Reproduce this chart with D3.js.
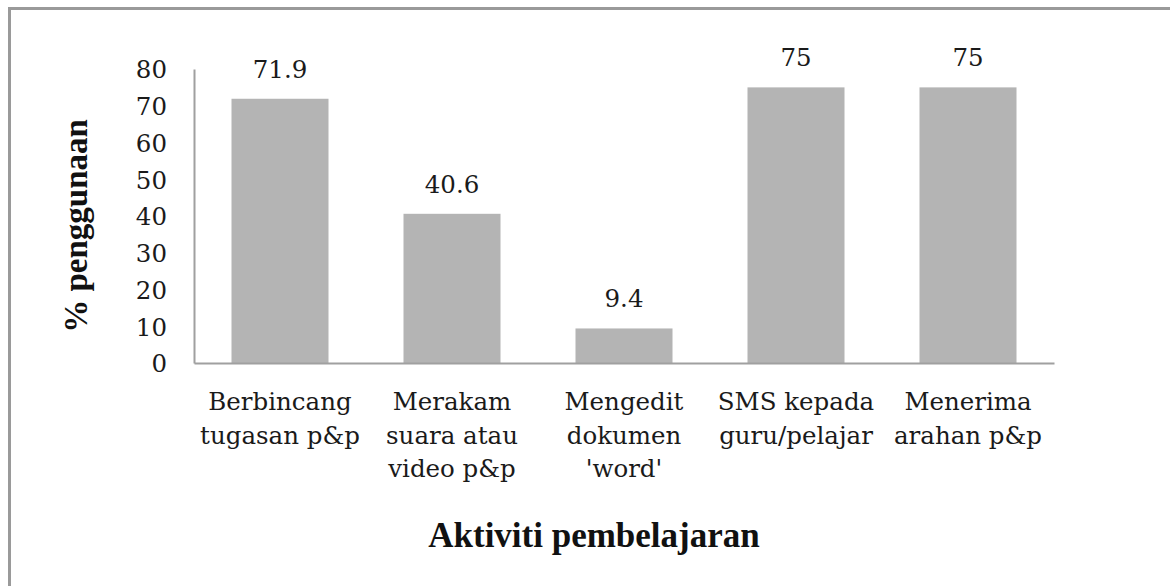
<!DOCTYPE html>
<html>
<head>
<meta charset="utf-8">
<script src="https://cdn.jsdelivr.net/npm/d3@7"></script>
<style>
html,body{margin:0;padding:0;background:#fff;}
svg{display:block;}
</style>
</head>
<body>
<svg id="chart" width="1170" height="586"></svg>
<script>
const categories = [
  ["Berbincang", "tugasan p&p"],
  ["Merakam", "suara atau", "video p&p"],
  ["Mengedit", "dokumen", "'word'"],
  ["SMS kepada", "guru/pelajar"],
  ["Menerima", "arahan p&p"]
];
const values = [71.9, 40.6, 9.4, 75, 75];
const valueLabels = ["71.9", "40.6", "9.4", "75", "75"];
const yTicks = [0, 10, 20, 30, 40, 50, 60, 70, 80];
const yTitle = "% penggunaan";
const xTitle = "Aktiviti pembelajaran";

const svg = d3.select("#chart");
const W = 1170, H = 586;
const m = {left: 194, top: 69, right: 1054, bottom: 363};

// outer border (left and top visible)
svg.append("line").attr("x1", 9.5).attr("x2", 9.5).attr("y1", 7).attr("y2", H)
  .attr("stroke", "#9a9a9a").attr("stroke-width", 3);
svg.append("line").attr("x1", 8).attr("x2", W).attr("y1", 8.5).attr("y2", 8.5)
  .attr("stroke", "#9a9a9a").attr("stroke-width", 3);

const x = d3.scaleBand().domain(d3.range(values.length)).range([m.left, m.right]).paddingInner(0.436).paddingOuter(0.218);
const y = d3.scaleLinear().domain([0, 80]).range([m.bottom, m.top]);

const font = "'DejaVu Serif', serif";
const fs = 24.5;

// bars
svg.append("g").selectAll("rect").data(values).join("rect")
  .attr("x", (d, i) => x(i))
  .attr("y", d => y(d))
  .attr("width", x.bandwidth())
  .attr("height", d => y(0) - y(d))
  .attr("fill", "#b4b4b4");

// y axis
const yAxis = d3.axisLeft(y).tickValues(yTicks).tickSize(0).tickPadding(27).tickFormat(d3.format("d"));
const gy = svg.append("g").attr("transform", `translate(${m.left},0)`).call(yAxis);
gy.select(".domain").attr("stroke", "#a0a0a0").attr("stroke-width", 2);
gy.selectAll("text").attr("font-family", font).attr("font-size", fs).attr("fill", "#1a1a1a").attr("dy", "0.36em");

// x axis
const xAxis = d3.axisBottom(x).tickSize(0).tickFormat("");
const gx = svg.append("g").attr("transform", `translate(0,${m.bottom})`).call(xAxis);
gx.select(".domain").attr("stroke", "#a0a0a0").attr("stroke-width", 2);
gx.selectAll(".tick text").remove();

// category labels
const catG = svg.append("g");
categories.forEach((lines, i) => {
  const t = catG.append("text")
    .attr("x", x(i) + x.bandwidth() / 2)
    .attr("y", 410)
    .attr("text-anchor", "middle")
    .attr("font-family", font).attr("font-size", fs).attr("fill", "#1a1a1a");
  lines.forEach((l, j) => {
    t.append("tspan").attr("x", x(i) + x.bandwidth() / 2).attr("y", 410 + j * 33.5).text(l);
  });
});

// value labels
svg.append("g").selectAll("text").data(values).join("text")
  .attr("x", (d, i) => x(i) + x.bandwidth() / 2)
  .attr("y", d => y(d) - 21)
  .attr("text-anchor", "middle")
  .attr("font-family", font).attr("font-size", fs).attr("fill", "#1a1a1a")
  .text((d, i) => valueLabels[i]);

// axis titles
svg.append("text")
  .attr("transform", "translate(87,226) rotate(-90)")
  .attr("text-anchor", "middle")
  .attr("font-family", "'Liberation Serif', serif").attr("font-weight", "bold")
  .attr("font-size", 33).attr("fill", "#111")
  .text(yTitle);

svg.append("text")
  .attr("x", 594).attr("y", 547)
  .attr("text-anchor", "middle")
  .attr("font-family", "'Liberation Serif', serif").attr("font-weight", "bold")
  .attr("font-size", 35).attr("fill", "#111")
  .text(xTitle);
</script>
</body>
</html>
